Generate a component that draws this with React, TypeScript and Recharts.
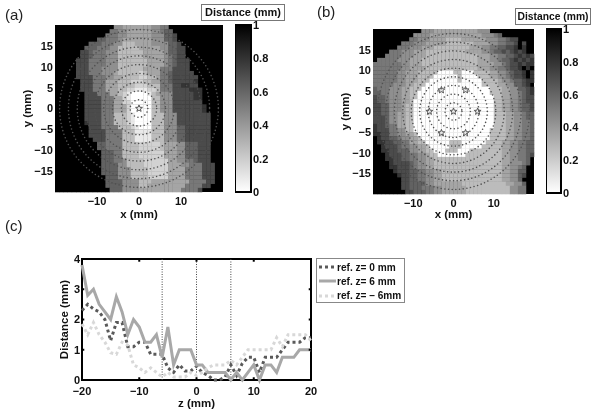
import React from "react";
import {
  ScatterChart,
  Scatter,
  LineChart,
  Line,
  XAxis,
  YAxis,
  ReferenceArea,
  ReferenceLine,
  Label,
} from "recharts";

// Distance maps, one string per row from y = +19.5 down to y = -19.5, one char per 1 mm cell.
// Digit = distance in tenths of a mm, x = 1 mm or more.
const rowsA = [
  "xxxxxxxxxxxxxx5544444445566",
  "xxxxxxxxxxxxx665544444455677",
  "xxxxxxxxxxxx66655444444555778",
  "xxxxxxxxxx7766654444444555778",
  "xxxxxxxx777666553334444555577 8",
  "xxxxxxx777666553333344444557788",
  "xxxxxx8876665553333334444457788",
  "xxxxxx8876665553333334444456788",
  "xxxxx888666655533333334444567888",
  "xxxxx888666655533333334444567888",
  "xxxxx888666555533333344446668888",
  "xxxxx8886665554333332344466788888",
  "xxxxx8888666554433332233466788888 8",
  "xxxxxx8886664443332223344667888889",
  "xxxxxx8886664443333222333666889988",
  "xxxxxx88866644433221112236668888999",
  "xxxxxxx88866644321000013455588888 99",
  "xxxxxxx88886664421000003355588888 99",
  "xxxxxxx8888666442200000335558888888",
  "xxxxxxx88886664442000003355588888889",
  "xxxxxxx88886664442000003355588888889",
  "xxxxxxx888866633321000033355588888888",
  "xxxxxxx888866633321000033355588888888",
  "xxxxxxx9888666333210000333555888888 88",
  "xxxxxxxx88866663332100033355577888888",
  "xxxxxxxx88886666333111133355577888888",
  "xxxxxxxx88886666333111133355577888888",
  "xxxxxxxxx8886666333111133355577888888",
  "xxxxxxxxxx776666333322222344455777888",
  "xxxxxxxxxx776666333322222344455777888",
  "xxxxxxxxxxx77766333322222244455777888",
  "xxxxxxxxxxx77766333322222244455777888",
  "xxxxxxxxxxx77766533332222224455667888",
  "xxxxxxxxxxx777755333322222244455666888",
  "xxxxxxxxxxx777755533332222244446666888",
  "xxxxxxxxxxx777755533332222244446666888",
  "xxxxxxxxxxxx77755533332222244446666888",
  "xxxxxxxxxxxx77775555333444444444666688",
  "xxxxxxxxxxxx77775555334444444446666 88",
  "xxxxxxxxxxxxx7775555444444444466668",
].map((r) => r.replace(/ /g, ""));

const rowsB = [
  "xxxxxxxxxxxx55544444444444555",
  "xxxxxxxxxx5555444444444444455567",
  "xxxxxxxxx665554444333344444455566788",
  "xxxxxxx66655544444333333344445566778x8",
  "xxxxxx666555444333333333444556677889x9",
  "xxxx6665554443333333333444455677878989",
  "xxx6666555444333333333333344455667789898",
  "x666665554443333333333333344455677898989",
  "6666666554443333333333333344445567889899",
  "6666666554444333333333333344455667889x9x",
  "66666655444333330000330003333445567889x9",
  "66666655444333300000030000333445567889x9",
  "6666665544433300000003000003333455677899",
  "6666655544333000000000000003333445577 89",
  "7666555443330000000000000000033344557789",
  "7766555443300000000000000000033344556789",
  "8776555443300000000000000000003344556788",
  "8776555443000000000000000000003344556788",
  "8877555433000000000000000000003344556778",
  "8877555433000000000000000000003344556778",
  "8877554433000000000000000000003334455677",
  "8887554433000000000000000000003334455677",
  "8887554433000000000000000000003334455667",
  "9887664433000000000000000000003334455667",
  "9888665533000000000000000000033334455667",
  "9988665544300000000000000000033334455667",
  "x988776554430000000000000000033334455667",
  "x998877664433000000333000000333344556677",
  "xx98887665544300000333000003333344556677",
  "xx99887775544330003330003333333344556677",
  "xxx9888776655433000000033333333344556678",
  "xxx9988776655443333333333333333344 55667",
  "xxxx98888765544333333333333333334455567",
  "xxxx998887655443333333333333333344 5567",
  "xxxxx9888776655443333333333333334455 77",
  "xxxxxx9887766554433333333333333344 5578",
  "xxxxxxx88776655443333333333333334455 7",
  "xxxxxxx8877775544444443333333333344 557",
  "xxxxxxx887776665544444433333333333 5566",
  "xxxxxxxx887776655444444333333333335566",
].map((r) => r.replace(/ /g, ""));

const ringRadii = [2.1, 4.2, 6.3, 8.4, 10.5, 12.6, 14.7, 16.8, 18.9];
const starsA = [{ x: 0, y: 0 }];
const starsB = [
  { x: 0, y: 0 },
  { x: 6, y: 0 },
  { x: -6, y: 0 },
  { x: 3, y: 5.2 },
  { x: -3, y: 5.2 },
  { x: 3, y: -5.2 },
  { x: -3, y: -5.2 },
];
const xTicksMap = [-10, 0, 10];
const yTicksMap = [-15, -10, -5, 0, 5, 10, 15];
const colourTicks = [0, 0.2, 0.4, 0.6, 0.8, 1];

const zValues = [
  -20, -19, -18, -17, -16, -15, -14, -13, -12, -11, -10, -9, -8, -7, -6, -5, -4, -3, -2, -1, 0, 1,
  2, 3, 4, 5, 6, 7, 8, 9, 10, 11, 12, 13, 14, 15, 16, 17, 18, 19, 20,
];
const refZero = [
  2.3, 2.5, 2.35, 2.25, 2.0, 1.3, 1.9, 1.9, 1.1, 1.1, 1.25, 1.25, 0.85, 0.85, 0.85, 0.4, 0.25, 0.5,
  0.3, 0.3, 0.45, 0.25, 0.15, 0, 0, 0.1, 0.5, 0.15, 0.55, 0.75, 0.75, 0.25, 0.75, 0.75, 0.75, 1, 1.25,
  1.25, 1.25, 1.4, 1.4,
];
const refSix = [
  3.8, 2.8, 3.0, 2.5, 2.25, 2.0, 2.75, 2.25, 1.5, 2.0, 1.75, 1.25, 1.25, 1.5, 0.75, 1.75, 0.5, 1, 1,
  1, 0.5, 0.5, 0.25, 0.25, 0.25, 0.25, 0, 0.25, 0, 0.25, 0.5, 0, 0.5, 0.5, 0.25, 0.75, 0.75, 0.75, 1,
  1, 1,
];
const refMinusSix = [
  1.85, 1.5, 1.9, 1.5, 1.25, 0.9, 0.85, 1.25, 1.15, 0.5, 0.4, 0.25, 0.4, 0.25, 0.1, 0.25, 0.1, 0.1,
  0.1, 0.25, 0.15, 0.25, 0.4, 0.5, 0.5, 0.5, 0.65, 0.5, 0.75, 1, 1, 1, 1, 1, 1.4, 1.1, 1.5, 1.5, 1.5,
  1.5, 1.3,
];
const lineTable = zValues.map((z, i) => ({
  z,
  zero: refZero[i],
  six: refSix[i],
  minusSix: refMinusSix[i],
}));

const FONT = "'Liberation Sans', Arial, sans-serif";
const tickStyle = { fontSize: 11, fontWeight: 700, fill: "#111", fontFamily: FONT };
const labelStyle = { fontSize: 11.5, fontWeight: 700, fill: "#111", fontFamily: FONT };
const minus = (v: number) => String(v).replace("-", "\u2212");

function rowsToCells(rows: string[]) {
  return rows.flatMap((row, r) =>
    row.split("").map((c, i) => ({
      x: -19.5 + i,
      y: 19.5 - r,
      v: c === "x" ? 1 : Number(c) / 10,
    }))
  );
}

function star(cx: number, cy: number, size: number) {
  const pts: string[] = [];
  for (let i = 0; i < 10; i++) {
    const r = i % 2 === 0 ? size : size * 0.42;
    const a = -Math.PI / 2 + (i * Math.PI) / 5;
    pts.push(`${cx + r * Math.cos(a)},${cy + r * Math.sin(a)}`);
  }
  return <polygon points={pts.join(" ")} fill="none" stroke="#555" strokeWidth={1} />;
}

interface MapPanelProps {
  rows: string[];
  stars: { x: number; y: number }[];
  plot: { left: number; top: number; right: number; bottom: number };
}

function MapPanel({ rows, stars, plot }: MapPanelProps) {
  const width = plot.right + 4;
  const height = 222;
  const pw = plot.right - plot.left;
  const ph = plot.bottom - plot.top;
  const cellW = pw / 40;
  const cellH = ph / 40;
  const cells = rowsToCells(rows);
  const rings = ringRadii.map((r) => ({ x: 0, y: 0, r }));
  return (
    <div style={{ position: "absolute", left: 0, top: 0 }}>
      <ScatterChart
        width={width}
        height={height}
        margin={{ top: plot.top, right: 4, bottom: 0, left: 0 }}
      >
        <XAxis
          type="number"
          dataKey="x"
          domain={[-20, 20]}
          ticks={xTicksMap}
          tickFormatter={minus}
          tick={tickStyle}
          tickLine={false}
          axisLine={false}
          tickMargin={-1}
          height={height - plot.bottom}
          interval={0}
        >
          <Label value="x (mm)" position="insideBottom" offset={4} style={labelStyle} />
        </XAxis>
        <YAxis
          type="number"
          dataKey="y"
          domain={[-20, 20]}
          ticks={yTicksMap}
          tickFormatter={minus}
          tick={tickStyle}
          tickLine={false}
          axisLine={false}
          tickMargin={-4}
          width={plot.left}
          interval={0}
        >
          <Label
            value="y (mm)"
            angle={-90}
            position="insideLeft"
            offset={plot.left - 28}
            style={{ ...labelStyle, textAnchor: "middle" }}
          />
        </YAxis>
        <ReferenceArea x1={-20} x2={20} y1={-20} y2={20} fill="#000" fillOpacity={1} stroke="none" />
        <Scatter
          data={cells}
          isAnimationActive={false}
          shape={(p: any) => {
            const v = p.payload.v;
            const g = v === 1 ? 0 : Math.round(255 * (1 - v * 0.88));
            return (
              <rect
                x={p.cx - cellW / 2}
                y={p.cy - cellH / 2}
                width={cellW + 0.3}
                height={cellH + 0.3}
                fill={`rgb(${g},${g},${g})`}
              />
            );
          }}
        />
        <Scatter
          data={rings}
          isAnimationActive={false}
          shape={(p: any) => (
            <ellipse
              cx={p.cx}
              cy={p.cy}
              rx={p.payload.r * cellW}
              ry={p.payload.r * cellH}
              fill="none"
              stroke="#505050"
              strokeWidth={1.6}
              strokeLinecap="round"
              strokeDasharray="0 3.7"
            />
          )}
        />
        <Scatter
          data={stars}
          isAnimationActive={false}
          shape={(p: any) => star(p.cx, p.cy, 3.6)}
        />
      </ScatterChart>
    </div>
  );
}

interface ColourBarProps {
  left: number;
  top: number;
  barWidth: number;
  barHeight: number;
  gradientId: string;
}

function ColourBar({ left, top, barWidth, barHeight, gradientId }: ColourBarProps) {
  const tickPoints = colourTicks.map((y) => ({ x: 0.5, y }));
  return (
    <div style={{ position: "absolute", left, top: top - 8 }}>
      <ScatterChart
        width={barWidth + 30}
        height={barHeight + 16}
        margin={{ top: 8, right: 0, bottom: 8, left: 0 }}
      >
        <defs>
          <linearGradient id={gradientId} x1="0" y1="0" x2="0" y2="1">
            <stop offset="0%" stopColor="#000" />
            <stop offset="100%" stopColor="#fff" />
          </linearGradient>
        </defs>
        <XAxis type="number" dataKey="x" domain={[0, 1]} hide />
        <YAxis
          type="number"
          dataKey="y"
          orientation="right"
          domain={[0, 1]}
          ticks={colourTicks}
          tick={tickStyle}
          tickLine={false}
          axisLine={false}
          tickMargin={-4}
          width={30}
          interval={0}
        />
        <ReferenceArea
          x1={0}
          x2={1}
          y1={0}
          y2={1}
          fill={`url(#${gradientId})`}
          fillOpacity={1}
          stroke="#000"
          strokeWidth={2}
        />
        <Scatter data={tickPoints} isAnimationActive={false} shape={() => <g />} />
      </ScatterChart>
    </div>
  );
}

const boxStyle: React.CSSProperties = {
  position: "absolute",
  border: "1px solid #777",
  background: "#fff",
  fontFamily: FONT,
  fontWeight: 700,
  color: "#111",
  textAlign: "center",
  boxSizing: "border-box",
};

const panelLetter: React.CSSProperties = {
  position: "absolute",
  fontFamily: FONT,
  fontSize: 15,
  color: "#222",
};

const lineSeries = [
  { key: "zero", name: "ref. z= 0 mm", color: "#5a5a5a", dash: "3 3" },
  { key: "six", name: "ref. z= 6 mm", color: "#a8a8a8", dash: undefined },
  { key: "minusSix", name: "ref. z= \u2013 6mm", color: "#d8d8d8", dash: "3 3" },
];

function LineLegend() {
  return (
    <div
      style={{
        position: "absolute",
        left: 316,
        top: 258,
        width: 89,
        height: 45,
        border: "1px solid #888",
        boxSizing: "border-box",
        background: "#fff",
      }}
    >
      {lineSeries.map((s, i) => (
        <div
          key={s.key}
          style={{
            position: "absolute",
            left: 2,
            top: 1 + i * 14.3,
            height: 14,
            display: "flex",
            alignItems: "center",
            whiteSpace: "nowrap",
          }}
        >
          <svg width={17} height={8}>
            <line
              x1={0}
              y1={4}
              x2={17}
              y2={4}
              stroke={s.color}
              strokeWidth={3}
              strokeDasharray={s.dash}
            />
          </svg>
          <span style={{ fontFamily: FONT, fontWeight: 700, fontSize: 10.1, color: "#111", marginLeft: 1 }}>
            {s.name}
          </span>
        </div>
      ))}
    </div>
  );
}

const innerTicksX = [-10, 0, 10];
const innerTicksY = [1, 2, 3];

function DistanceProfile() {
  return (
    <div style={{ position: "absolute", left: 0, top: 215 }}>
      <LineChart
        width={330}
        height={198}
        data={lineTable}
        margin={{ top: 44, right: 19, bottom: 0, left: 0 }}
      >
        <XAxis
          type="number"
          dataKey="z"
          domain={[-20, 20]}
          ticks={[-20, -10, 0, 10, 20]}
          tickFormatter={minus}
          tick={tickStyle}
          tickLine={false}
          tickMargin={1}
          axisLine={false}
          height={33}
          interval={0}
        >
          <Label value="z (mm)" position="insideBottom" offset={6} style={labelStyle} />
        </XAxis>
        <YAxis
          type="number"
          domain={[0, 4]}
          ticks={[0, 1, 2, 3, 4]}
          tick={tickStyle}
          tickLine={false}
          tickMargin={-4}
          axisLine={false}
          width={82}
          interval={0}
        >
          <Label
            value="Distance (mm)"
            angle={-90}
            position="insideLeft"
            offset={64}
            style={{ ...labelStyle, textAnchor: "middle" }}
          />
        </YAxis>
        {[-6, 0, 6].map((z) => (
          <ReferenceLine key={z} x={z} stroke="#444" strokeDasharray="1 1.5" strokeWidth={1} />
        ))}
        {lineSeries.map((s) => (
          <Line
            key={s.key}
            type="linear"
            dataKey={s.key}
            stroke={s.color}
            strokeWidth={3}
            strokeDasharray={s.dash}
            dot={false}
            isAnimationActive={false}
          />
        ))}
        {innerTicksX.flatMap((z) => [
          <ReferenceLine key={`b${z}`} segment={[{ x: z, y: 0 }, { x: z, y: 0.09 }]} stroke="#000" strokeWidth={2} />,
          <ReferenceLine key={`t${z}`} segment={[{ x: z, y: 4 }, { x: z, y: 3.91 }]} stroke="#000" strokeWidth={2} />,
        ])}
        {innerTicksY.flatMap((d) => [
          <ReferenceLine key={`l${d}`} segment={[{ x: -20, y: d }, { x: -19.6, y: d }]} stroke="#000" strokeWidth={2} />,
          <ReferenceLine key={`r${d}`} segment={[{ x: 20, y: d }, { x: 19.6, y: d }]} stroke="#000" strokeWidth={2} />,
        ])}
        <ReferenceArea x1={-20} x2={20} y1={0} y2={4} fill="none" stroke="#000" strokeWidth={2} />
      </LineChart>
    </div>
  );
}

export default function App() {
  return (
    <div
      style={{
        position: "fixed",
        left: 0,
        top: 0,
        width: 598,
        height: 413,
        background: "#fff",
        overflow: "hidden",
        filter: "blur(0.45px)",
      }}
    >
      <MapPanel rows={rowsA} stars={starsA} plot={{ left: 55, top: 25, right: 223, bottom: 192 }} />
      <MapPanel rows={rowsB} stars={starsB} plot={{ left: 373, top: 29, right: 534, bottom: 194 }} />
      <ColourBar left={235} top={25} barWidth={16} barHeight={167} gradientId="barA" />
      <ColourBar left={546} top={29} barWidth={15} barHeight={164} gradientId="barB" />
      <div style={{ ...boxStyle, left: 201, top: 4, width: 84, height: 17, fontSize: 11, lineHeight: "15px" }}>
        Distance (mm)
      </div>
      <div style={{ ...boxStyle, left: 515, top: 8, width: 76, height: 17, fontSize: 10.3, lineHeight: "15px" }}>
        Distance (mm)
      </div>
      <div style={{ ...panelLetter, left: 5, top: 6 }}>(a)</div>
      <div style={{ ...panelLetter, left: 317, top: 3 }}>(b)</div>
      <div style={{ ...panelLetter, left: 5, top: 217 }}>(c)</div>
      <DistanceProfile />
      <LineLegend />
    </div>
  );
}
